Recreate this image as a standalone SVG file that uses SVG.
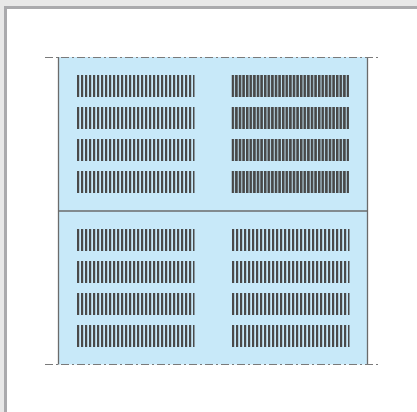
<svg xmlns="http://www.w3.org/2000/svg" width="417" height="412" viewBox="0 0 417 412">
  <defs>
    <pattern id="barsL" patternUnits="userSpaceOnUse" x="77" y="0" width="4" height="10">
      <rect x="0" y="0" width="2.2" height="10" fill="#4a4a4a"/>
    </pattern>
    <pattern id="barsR" patternUnits="userSpaceOnUse" x="231.5" y="0" width="3.6" height="10">
      <rect x="0" y="0" width="2.6" height="10" fill="#474747"/>
    </pattern>
    <pattern id="barsB" patternUnits="userSpaceOnUse" x="232" y="0" width="4" height="10">
      <rect x="0" y="0" width="2.2" height="10" fill="#4a4a4a"/>
    </pattern>
  </defs>
  <style>
    .edge { stroke: #6b6b6b; stroke-width: 1.3; fill: none; }
    .dashdot { stroke: #7a7a7a; stroke-width: 1.2; stroke-dasharray: 8 3 2 3; fill: none; }
    .bl { fill: url(#barsL); }
    .br { fill: url(#barsR); }
    .bb { fill: url(#barsB); }
  </style>
  <rect x="0" y="0" width="417" height="412" fill="#e8e8e8"/>
  <rect x="5.5" y="7.5" width="420" height="420" fill="#ffffff" stroke="#aaaaad" stroke-width="3"/>

  <g id="panel">
    <rect x="58.5" y="57" width="309" height="307.5" fill="#c8e9f9"/>
    <line class="edge" x1="58.5" y1="57" x2="58.5" y2="364.5"/>
    <line class="edge" x1="367.5" y1="57" x2="367.5" y2="364.5"/>
    <line class="edge" x1="58.5" y1="211" x2="367.5" y2="211"/>
    <line class="dashdot" x1="45" y1="57.5" x2="381" y2="57.5"/>
    <line class="dashdot" x1="45" y1="364.5" x2="381" y2="364.5"/>
  </g>

  <g id="top-left">
    <rect class="bl" x="77" y="75" width="117.5" height="22"/>
    <rect class="bl" x="77" y="107" width="117.5" height="22"/>
    <rect class="bl" x="77" y="139" width="117.5" height="22"/>
    <rect class="bl" x="77" y="171" width="117.5" height="22"/>
  </g>
  <g id="top-right">
    <rect class="br" x="231.5" y="75" width="117.5" height="22"/>
    <rect class="br" x="231.5" y="107" width="117.5" height="22"/>
    <rect class="br" x="231.5" y="139" width="117.5" height="22"/>
    <rect class="br" x="231.5" y="171" width="117.5" height="22"/>
  </g>
  <g id="bottom-left">
    <rect class="bl" x="77" y="229" width="117.5" height="22"/>
    <rect class="bl" x="77" y="261" width="117.5" height="22"/>
    <rect class="bl" x="77" y="293" width="117.5" height="22"/>
    <rect class="bl" x="77" y="325" width="117.5" height="22"/>
  </g>
  <g id="bottom-right">
    <rect class="bb" x="232" y="229" width="117.5" height="22"/>
    <rect class="bb" x="232" y="261" width="117.5" height="22"/>
    <rect class="bb" x="232" y="293" width="117.5" height="22"/>
    <rect class="bb" x="232" y="325" width="117.5" height="22"/>
  </g>
</svg>
